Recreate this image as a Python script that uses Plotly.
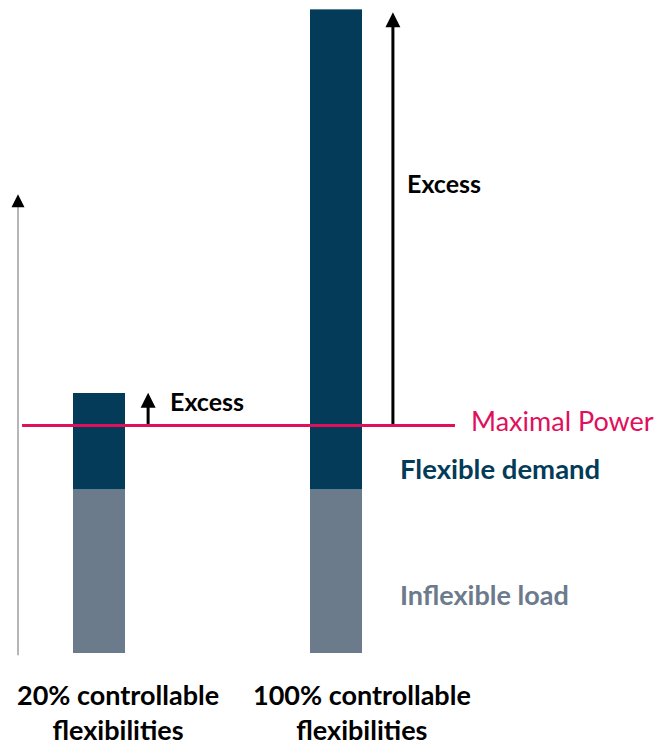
import plotly.graph_objects as go

# values in units of the inflexible load
scenarios = ["20% controllable<br>flexibilities", "100% controllable<br>flexibilities"]
inflexible_load = [1.0, 1.0]
flexible_demand = [0.59, 2.93]
maximal_power = 1.39
axis_top = 2.8

NAVY = "#033b59"
GRAY = "#6c7b8c"
RED = "#e0105c"
FONT = "Lato"

xpos = [0, 1]
totals = [a + b for a, b in zip(inflexible_load, flexible_demand)]

fig = go.Figure()
fig.add_trace(go.Bar(x=xpos, y=inflexible_load, width=0.22, marker_color=GRAY,
                     marker_line_width=0, name="Inflexible load"))
fig.add_trace(go.Bar(x=xpos, y=flexible_demand, width=0.22, marker_color=NAVY,
                     marker_line=dict(color="rgba(255,255,255,0.35)", width=1),
                     name="Flexible demand"))

# maximal power line
fig.add_trace(go.Scatter(x=[-0.325, 1.502], y=[maximal_power, maximal_power], mode="lines",
                         line=dict(color=RED, width=3), hoverinfo="skip"))
# vertical axis stem
fig.add_trace(go.Scatter(x=[-0.342, -0.342], y=[-0.01, axis_top - 0.05], mode="lines",
                         line=dict(color="#888", width=1.2), hoverinfo="skip"))

annotations = [
    # axis arrow head
    dict(x=-0.342, y=axis_top, ax=-0.342, ay=axis_top - 0.08, xref="x", yref="y", axref="x", ayref="y",
         showarrow=True, arrowhead=2, arrowsize=1.3, arrowwidth=2, arrowcolor="black", text=""),
    # excess arrows
    dict(x=0.207, y=totals[0], ax=0.207, ay=maximal_power, xref="x", yref="y", axref="x", ayref="y",
         showarrow=True, arrowhead=2, arrowsize=1, arrowwidth=3, arrowcolor="black", text=""),
    dict(x=1.24, y=totals[1] - 0.02, ax=1.24, ay=maximal_power, xref="x", yref="y", axref="x", ayref="y",
         showarrow=True, arrowhead=2, arrowsize=1, arrowwidth=3, arrowcolor="black", text=""),
    dict(x=0.29, y=1.54, xref="x", yref="y", text="<b>Excess</b>", showarrow=False, xanchor="left",
         font=dict(family=FONT, size=25, color="black")),
    dict(x=1.29, y=2.87, xref="x", yref="y", text="<b>Excess</b>", showarrow=False, xanchor="left",
         font=dict(family=FONT, size=25, color="black")),
    dict(x=1.56, y=1.42, xref="x", yref="y", text="Maximal Power", showarrow=False, xanchor="left",
         font=dict(family=FONT, size=27, color=RED)),
    dict(x=1.26, y=1.13, xref="x", yref="y", text="<b>Flexible demand</b>", showarrow=False, xanchor="left",
         font=dict(family=FONT, size=27.5, color=NAVY)),
    dict(x=1.26, y=0.36, xref="x", yref="y", text="<b>Inflexible load</b>", showarrow=False, xanchor="left",
         font=dict(family=FONT, size=27, color=GRAY)),
]
for xp, label in zip([0.08, 1.11], scenarios):
    annotations.append(dict(x=xp, y=-0.355, xref="x", yref="y", text="<b>" + label + "</b>",
                            showarrow=False, align="center",
                            font=dict(family=FONT, size=27, color="black")))

fig.update_layout(
    width=655, height=745,
    margin=dict(l=0, r=0, t=0, b=0),
    paper_bgcolor="white", plot_bgcolor="white",
    barmode="stack", showlegend=False,
    xaxis=dict(range=[-0.418, 2.346], visible=False),
    yaxis=dict(range=[-0.558, 3.985], visible=False),
    annotations=annotations,
)

fig.write_html("out.html", config={"displayModeBar": False},
               post_script="document.body.style.margin='0';")
